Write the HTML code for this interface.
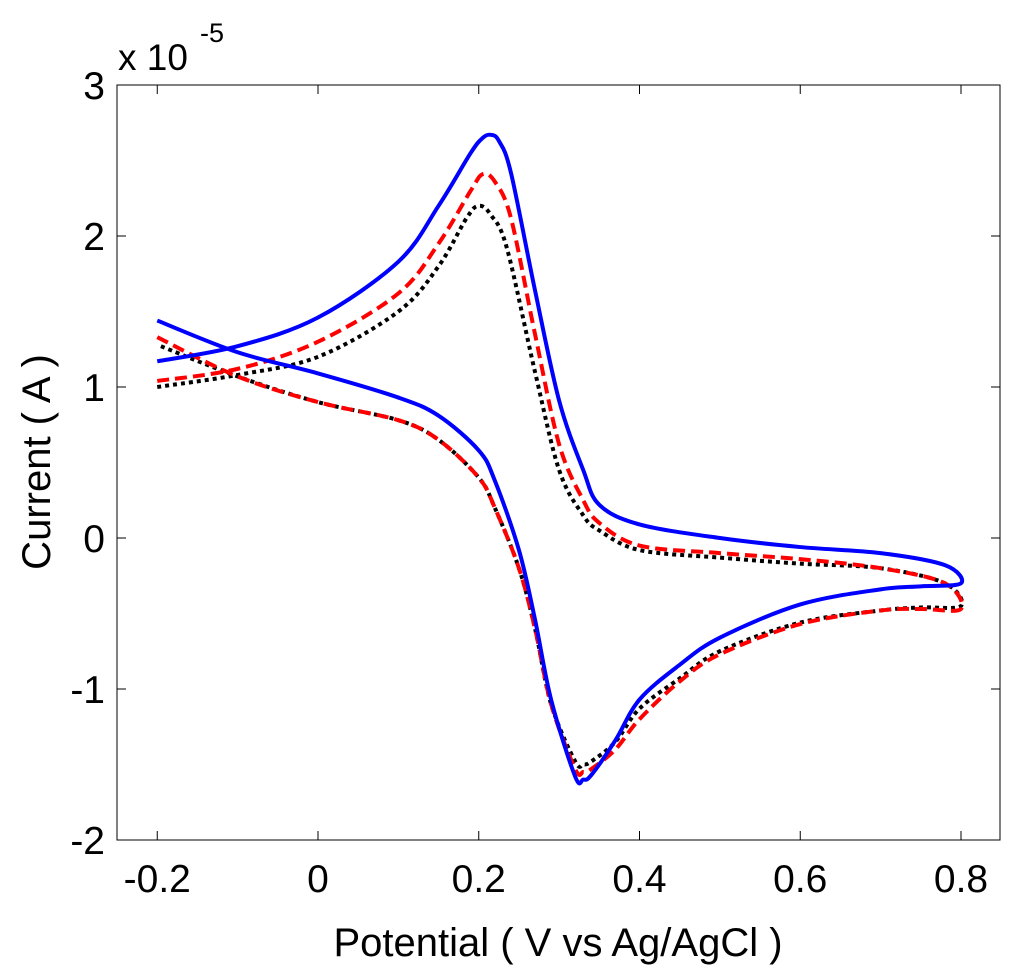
<!DOCTYPE html>
<html><head><meta charset="utf-8"><style>
body{margin:0;background:#fff}
svg{display:block;font-family:"Liberation Sans",Arial,sans-serif}
</style></head><body>
<svg id="chart" width="1024" height="973" viewBox="0 0 1024 973" xmlns="http://www.w3.org/2000/svg">
<rect x="0" y="0" width="1024" height="973" fill="#fff"/>
<g id="plot"></g>
<text x="118" y="70" font-size="37">x 10</text>
<text x="200" y="42" font-size="27">-5</text>
<text x="558" y="956" font-size="40" text-anchor="middle">Potential ( V vs Ag/AgCl )</text>
<text transform="translate(50,462) rotate(-90)" font-size="40" text-anchor="middle">Current ( A )</text>
</svg>
<script>
const xTicks=[-0.2,0,0.2,0.4,0.6,0.8];
const xTickLabels=["-0.2","0","0.2","0.4","0.6","0.8"];
const yTicks=[-2,-1,0,1,2,3];
const yTickLabels=["-2","-1","0","1","2","3"];
const blueX=[-0.2,-0.1,0,0.1,0.15,0.19,0.205,0.215,0.225,0.24,0.27,0.3,0.33,0.35,0.4,0.5,0.6,0.7,0.78,0.8,0.75,0.7,0.6,0.5,0.45,0.4,0.37,0.34,0.33,0.32,0.29,0.27,0.25,0.22,0.2,0.15,0.1,0,-0.1,-0.2];
const blueY=[1.17,1.27,1.46,1.83,2.2,2.55,2.65,2.67,2.63,2.42,1.64,0.91,0.45,0.22,0.09,0,-0.06,-0.1,-0.18,-0.3,-0.32,-0.34,-0.44,-0.66,-0.84,-1.07,-1.34,-1.57,-1.6,-1.58,-1.07,-0.54,-0.08,0.38,0.58,0.81,0.93,1.09,1.23,1.44];
const redX=[-0.2,-0.1,0,0.1,0.15,0.19,0.205,0.22,0.24,0.27,0.3,0.33,0.35,0.4,0.5,0.6,0.7,0.78,0.8,0.75,0.7,0.6,0.5,0.45,0.4,0.37,0.34,0.33,0.32,0.29,0.27,0.25,0.22,0.2,0.15,0.1,0,-0.1,-0.2];
const redY=[1.04,1.12,1.3,1.62,1.95,2.3,2.41,2.36,2.12,1.35,0.62,0.25,0.1,-0.05,-0.1,-0.14,-0.2,-0.3,-0.47,-0.47,-0.48,-0.57,-0.77,-0.95,-1.2,-1.4,-1.53,-1.55,-1.53,-1.1,-0.6,-0.2,0.2,0.4,0.65,0.78,0.9,1.07,1.33];
const blackX=[-0.2,-0.1,0,0.1,0.15,0.185,0.2,0.215,0.235,0.27,0.3,0.33,0.35,0.4,0.5,0.6,0.7,0.78,0.8,0.75,0.7,0.6,0.5,0.45,0.4,0.37,0.34,0.33,0.32,0.29,0.27,0.25,0.22,0.2,0.15,0.1,0,-0.1,-0.2];
const blackY=[1.0,1.08,1.2,1.5,1.8,2.12,2.2,2.14,1.92,1.1,0.45,0.15,0.05,-0.08,-0.13,-0.17,-0.2,-0.3,-0.45,-0.46,-0.48,-0.56,-0.75,-0.93,-1.13,-1.35,-1.48,-1.5,-1.48,-1.1,-0.6,-0.2,0.2,0.4,0.65,0.78,0.9,1.07,1.28];
const L=117,R=1000,T=85,B=840;
const xs=v=>318+v*803.75;
const ys=v=>538-v*151;
const NS="http://www.w3.org/2000/svg";
const g=document.getElementById('plot');
function mk(t,a){const e=document.createElementNS(NS,t);for(const k in a)e.setAttribute(k,a[k]);g.appendChild(e);return e;}
const box=mk('rect',{x:L,y:T,width:R-L,height:B-T,fill:'none',stroke:'#000','stroke-width':1});


xTicks.forEach((v,i)=>{
  const x=xs(v);
  const t1=mk('line',{x1:x,y1:B,x2:x,y2:B-9,stroke:'#000'});
  
  
  mk('line',{x1:x,y1:T,x2:x,y2:T+9,stroke:'#000'});
  const tx=mk('text',{x:x,y:B+52,'font-size':39,'text-anchor':'middle'});
  tx.textContent=xTickLabels[i];
  
  
});
yTicks.forEach((v,i)=>{
  const y=ys(v);
  const t1=mk('line',{x1:L,y1:y,x2:L+9,y2:y,stroke:'#000'});
  
  
  mk('line',{x1:R,y1:y,x2:R-9,y2:y,stroke:'#000'});
  const tx=mk('text',{x:L-12,y:y+14,'font-size':39,'text-anchor':'end'});
  tx.textContent=yTickLabels[i];
  
  
});
function smooth(X,Y){
  const p=X.map((x,i)=>[xs(x),ys(Y[i])]);
  let d='M'+p[0][0]+','+p[0][1];
  for(let i=0;i<p.length-1;i++){
    const p0=p[Math.max(0,i-1)],p1=p[i],p2=p[i+1],p3=p[Math.min(p.length-1,i+2)];
    const c1=[p1[0]+(p2[0]-p0[0])/6,p1[1]+(p2[1]-p0[1])/6];
    const c2=[p2[0]-(p3[0]-p1[0])/6,p2[1]-(p3[1]-p1[1])/6];
    d+=' C'+c1+' '+c2+' '+p2;
  }
  return d;
}
const sb=mk('path',{d:smooth(blackX,blackY),fill:'none',stroke:'#000','stroke-width':4,'stroke-dasharray':'4 4'});


const sr=mk('path',{d:smooth(redX,redY),fill:'none',stroke:'#ff0000','stroke-width':4,'stroke-dasharray':'12 6'});


const sl=mk('path',{d:smooth(blueX,blueY),fill:'none',stroke:'#0000ff','stroke-width':4});


</script>
</body></html>
